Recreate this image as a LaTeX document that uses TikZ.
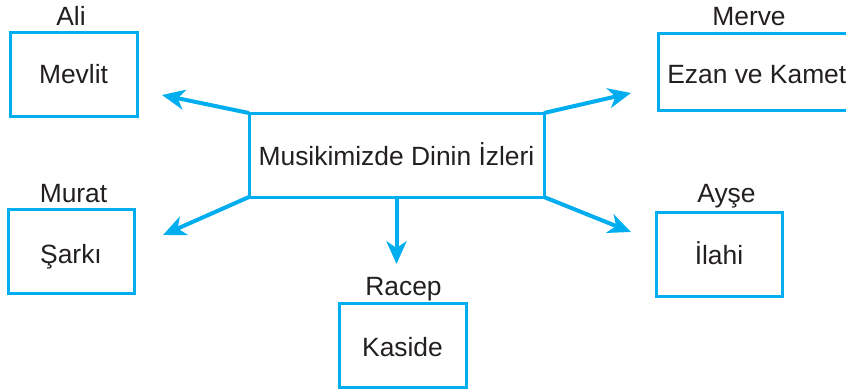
\documentclass[tikz,border=0pt]{standalone}
\usepackage{fontspec}
\setmainfont{Liberation Sans}
\usetikzlibrary{arrows.meta}
\definecolor{cy}{HTML}{00AEEF}
\definecolor{ink}{HTML}{231F20}
\begin{document}
\begin{tikzpicture}[x=0.75pt,y=-0.75pt,
  box/.style={draw=cy,line width=2.25pt,minimum height=63pt,inner sep=0pt,outer sep=0pt},
  txt/.style={text=ink,font=\fontsize{19.8}{24}\selectfont,anchor=base,inner sep=0pt},
  arr/.style={draw=cy,line width=3pt,-{Stealth[length=17pt,width=15pt,inset=5pt]}}]
\useasboundingbox (0,0) rectangle (846,389);
\begin{scope}
\clip (0,0) rectangle (846,389);
% boxes
\node[box,minimum width=221.25pt] (c) at (396.5,155) {};
\node[box,minimum width=95.25pt] (mb) at (73.5,74) {};
\node[box,minimum width=166.5pt,minimum height=57.75pt,anchor=west] (eb) at (658,71.5) {};
\node[box,minimum width=94.5pt] (sb) at (71,251) {};
\node[box,minimum width=94.5pt] (ib) at (719,254) {};
\node[box,minimum width=95.25pt] (kb) at (402.5,345) {};
% texts in boxes
\node[txt] (ct) at (396.5,165) {Musikimizde Dinin İzleri};
\node[txt] (mt) at (73.5,83) {Mevlit};
\node[txt,anchor=base west] (et) at (667,83) {Ezan ve Kamet};
\node[txt] (st) at (71,263) {Şarkı};
\node[txt] (it) at (719,264) {İlahi};
\node[txt] (kt) at (402.5,356) {Kaside};
% name labels
\node[txt] (ali) at (71,25) {Ali};
\node[txt] (merve) at (749,25) {Merve};
\node[txt] (murat) at (73.5,202) {Murat};
\node[txt] (ayse) at (726.5,202) {Ayşe};
\node[txt] (racep) at (403.5,295) {Racep};
% arrow tips
\coordinate (t1) at (162,95);
\coordinate (t2) at (631,93);
\coordinate (t3) at (163,235);
\coordinate (t4) at (631,232);
\coordinate (t5) at (396.5,264);
\draw[arr] (c.north west) -- (t1);
\draw[arr] (c.north east) -- (t2);
\draw[arr] (c.south west) -- (t3);
\draw[arr] (c.south east) -- (t4);
\draw[arr] (c.south) -- (t5);
\end{scope}
\end{tikzpicture}
\end{document}
